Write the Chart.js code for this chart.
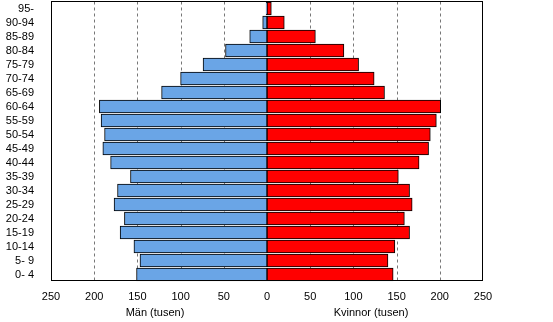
<!DOCTYPE html>
<html>
<head>
<meta charset="utf-8">
<script src="https://cdn.jsdelivr.net/npm/chart.js@4/dist/chart.umd.min.js"></script>
<style>
  html, body { margin: 0; padding: 0; background: #fff; }
  #wrap { width: 553px; height: 322px; }
</style>
</head>
<body>
<div id="wrap"><canvas id="pyramid" width="553" height="322"></canvas></div>
<script>
// Age groups, top to bottom
const ageGroups = ["95-", "90-94", "85-89", "80-84", "75-79", "70-74", "65-69", "60-64", "55-59", "50-54",
  "45-49", "40-44", "35-39", "30-34", "25-29", "20-24", "15-19", "10-14", "5- 9", "0- 4"];

// Thousands of people
const men = [1, 5, 20, 48, 74, 100, 122, 194, 192, 188, 190, 181, 158, 173, 177, 165, 170, 154, 147, 151];
const women = [5, 20, 56, 89, 106, 124, 136, 201, 196, 189, 187, 176, 152, 165, 168, 159, 165, 148, 140, 146];

const xTicks = [-250, -200, -150, -100, -50, 0, 50, 100, 150, 200, 250];
const menTitle = "Män (tusen)";
const womenTitle = "Kvinnor (tusen)";

const FONT = "Liberation Sans, Arial, sans-serif";

// Dashed grid behind the bars, frame and axis titles on top
const extras = {
  id: "extras",
  beforeDatasetsDraw(chart) {
    const { ctx, chartArea: a } = chart;
    const x = chart.scales.x;
    ctx.save();
    ctx.strokeStyle = "#777";
    ctx.lineWidth = 1;
    ctx.setLineDash([3, 3]);
    xTicks.forEach(v => {
      if (v === 0 || Math.abs(v) === 250) return;
      const px = Math.round(x.getPixelForValue(v)) + 0.5;
      ctx.beginPath();
      ctx.moveTo(px, a.top);
      ctx.lineTo(px, a.bottom);
      ctx.stroke();
    });
    ctx.restore();
  },
  afterDatasetsDraw(chart) {
    const { ctx, chartArea: a } = chart;
    const top = Math.floor(a.top) + 0.5;
    const bottom = Math.floor(a.bottom) - 0.5;
    ctx.save();
    ctx.strokeStyle = "#000";
    ctx.lineWidth = 1;
    ctx.strokeRect(Math.round(a.left) + 0.5, top, Math.round(a.right - a.left) - 1, bottom - top);
    ctx.restore();
  },
  afterDraw(chart) {
    const { ctx } = chart;
    const x = chart.scales.x;
    ctx.save();
    ctx.fillStyle = "#000";
    ctx.font = "11px " + FONT;
    ctx.textAlign = "center";
    ctx.textBaseline = "middle";
    ctx.fillText(menTitle, x.getPixelForValue(-125) - 4, 313);
    ctx.fillText(womenTitle, x.getPixelForValue(125) - 4, 313);
    ctx.restore();
  }
};

new Chart(document.getElementById("pyramid"), {
  type: "bar",
  data: {
    labels: ageGroups,
    datasets: [
      {
        label: "Män",
        data: men.map(v => -v),
        backgroundColor: "#6AA5E6",
        borderColor: "#000",
        borderWidth: 1,
        borderSkipped: false
      },
      {
        label: "Kvinnor",
        data: women,
        backgroundColor: "#FF0000",
        borderColor: "#000",
        borderWidth: 1,
        borderSkipped: false
      }
    ]
  },
  options: {
    indexAxis: "y",
    responsive: false,
    animation: false,
    layout: { padding: { left: 0, right: 70, top: 1.5, bottom: 0 } },
    plugins: {
      legend: { display: false },
      tooltip: { enabled: false }
    },
    datasets: {
      bar: { barThickness: 13 }
    },
    scales: {
      x: {
        min: -250,
        max: 250,
        afterBuildTicks: scale => { scale.ticks = xTicks.map(v => ({ value: v })); },
        afterFit: scale => {
          scale.height = 40.5;
          scale.paddingLeft = 0;
          scale.paddingRight = 0;
        },
        grid: { display: false, drawTicks: false },
        border: { display: false },
        ticks: {
          color: "#000",
          padding: 9,
          font: { family: FONT, size: 11 },
          callback: v => Math.abs(v)
        }
      },
      y: {
        stacked: true,
        afterFit: scale => {
          scale.width = 51;
          scale.paddingTop = 0;
          scale.paddingBottom = 0;
        },
        grid: { display: false },
        border: { display: false },
        ticks: {
          color: "#000",
          padding: 9,
          autoSkip: false,
          font: { family: FONT, size: 11 }
        }
      }
    }
  },
  plugins: [extras]
});
</script>
</body>
</html>
